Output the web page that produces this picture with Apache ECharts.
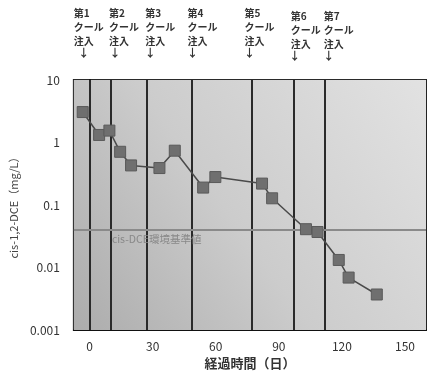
<!DOCTYPE html>
<html>
<head>
<meta charset="utf-8">
<script src="https://cdn.jsdelivr.net/npm/echarts@6/dist/echarts.min.js"></script>
<style>
  html, body { margin: 0; padding: 0; background: #fff; }
  #main { width: 427px; height: 379px; }
</style>
</head>
<body>
<div id="main"></div>
<script>
// 経過日数と cis-1,2-DCE 濃度
const days = [-3.3, 4.5, 9.4, 14.5, 19.7, 33.2, 40.5, 54, 59.8, 82, 86.8, 102.9, 108.4, 118.5, 123.2, 136.6]
const dce = [3.07, 1.32, 1.55, 0.71, 0.43, 0.39, 0.74, 0.19, 0.28, 0.22, 0.128, 0.041, 0.037, 0.0132, 0.0069, 0.0037]

// クール注入日
const injectDays = [0, 10.2, 27.4, 48.4, 77, 97.1, 111.8]
const injectNames = ['第1', '第2', '第3', '第4', '第5', '第6', '第7']

const standardValue = 0.04
const xTicks = [0, 30, 60, 90, 120, 150]

// ラベルのずらし (px)
const textShift = [-16, -2, -2, -4, -7, -3, -1]
const arrowShift = [-6, 4, 3, 1, -2, 1, 4]

const font = '"Noto Sans CJK JP", "Noto Sans", sans-serif'
const chart = echarts.init(document.getElementById('main'))

chart.setOption({
  animation: false,
  textStyle: { fontFamily: font },
  grid: { left: 70, right: 1, top: 80, bottom: 49, show: true, borderColor: '#222', borderWidth: 2 },
  xAxis: {
    type: 'value',
    min: -7.5,
    max: 160,
    name: '経過時間（日）',
    nameLocation: 'middle',
    nameGap: 26,
    nameTextStyle: { color: '#333', fontSize: 13, fontWeight: 'bold', fontFamily: font },
    axisLine: { show: true, onZero: false, lineStyle: { color: '#111', width: 2 } },
    axisTick: { show: false },
    splitLine: { show: false },
    axisLabel: { customValues: xTicks, color: '#333', fontSize: 12, margin: 10 }
  },
  yAxis: {
    type: 'log',
    logBase: 10,
    min: 0.001,
    max: 10,
    name: 'cis-1,2-DCE（mg/L）',
    nameLocation: 'middle',
    nameGap: 50,
    nameTextStyle: { color: '#444', fontSize: 11, fontFamily: font },
    axisLine: { show: true, lineStyle: { color: '#111', width: 2 } },
    axisTick: { show: false },
    axisLabel: {
      color: '#333', fontSize: 12, margin: 14,
      formatter: v => String(+v.toPrecision(3))
    },
    splitLine: { show: true, lineStyle: { color: '#2a2a2a', width: 2 } }
  },
  series: [
    {
      // プロット背景（グラデーション）
      type: 'line',
      data: [],
      markArea: {
        silent: true,
        itemStyle: {
          color: new echarts.graphic.LinearGradient(0, 1, 1, 0, [
            { offset: 0, color: '#acacac' },
            { offset: 0.45, color: '#cccccc' },
            { offset: 1, color: '#e2e2e2' }
          ])
        },
        data: [[{ xAxis: -7.5, yAxis: 0.001 }, { xAxis: 160, yAxis: 10 }]]
      },
      z: 0
    },
    {
      type: 'line',
      data: [],
      markLine: {
        silent: true,
        symbol: 'none',
        lineStyle: { color: '#2a2a2a', width: 2, type: 'solid' },
        label: { show: false },
        data: injectDays.map(d => ({ xAxis: d }))
      },
      z: 1
    },
    {
      type: 'line',
      data: [],
      markLine: {
        silent: true,
        symbol: 'none',
        lineStyle: { color: '#8a8a8a', width: 2, type: 'solid' },
        label: {
          show: true,
          position: 'insideStartBottom',
          formatter: 'cis-DCE環境基準値',
          color: '#888',
          fontSize: 10.5,
          distance: [38, 4]
        },
        data: [{ yAxis: standardValue }]
      },
      z: 2
    },
    {
      type: 'line',
      data: days.map((d, i) => [d, dce[i]]),
      symbol: 'rect',
      symbolSize: 11,
      lineStyle: { color: '#4a4a4a', width: 1.5 },
      itemStyle: { color: '#6f6f6f', borderColor: '#5a5a5a', borderWidth: 1 },
      z: 5
    }
  ]
})

// 上部の注入ラベル
chart.setOption({
  graphic: injectDays.map((d, i) => {
    const px = chart.convertToPixel({ xAxisIndex: 0 }, d)
    const dy = i >= 5 ? 3 : 0
    return {
      type: 'group',
      children: [
        {
          type: 'text',
          x: px + textShift[i],
          y: 6 + dy,
          style: {
            text: injectNames[i] + '\nクール\n注入',
            fill: '#333',
            font: 'bold 10px ' + font,
            lineHeight: 14
          }
        },
        {
          type: 'text',
          x: px + arrowShift[i],
          y: 47 + dy,
          style: { text: '↓', fill: '#333', font: 'bold 11px ' + font, align: 'center' }
        }
      ]
    }
  })
})
</script>
</body>
</html>
